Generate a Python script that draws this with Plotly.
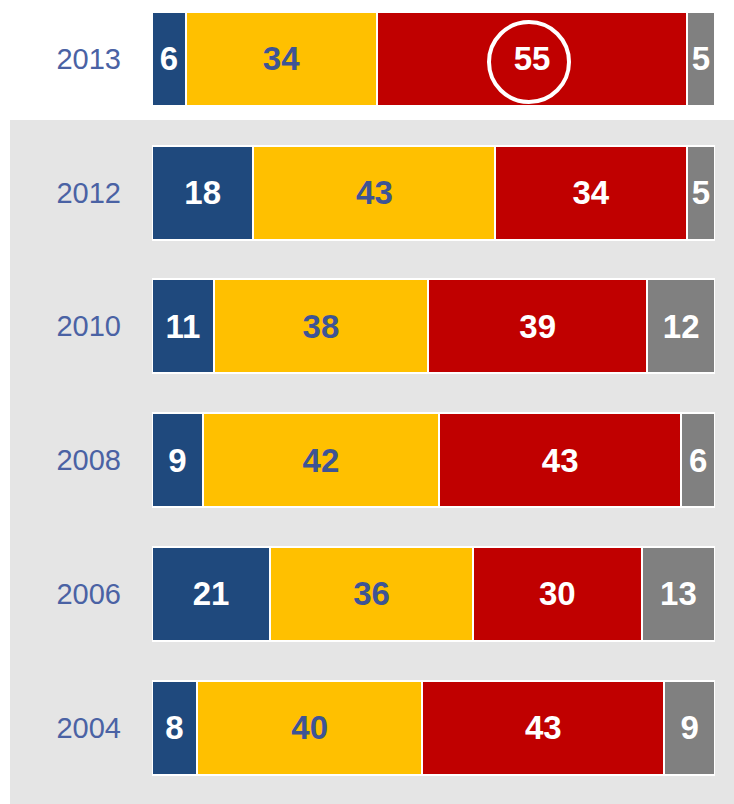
import plotly.graph_objects as go

years = ["2004", "2006", "2008", "2010", "2012", "2013"]
series_names = ["A", "B", "C", "D"]
s1 = [8, 21, 9, 11, 18, 6]
s2 = [40, 36, 42, 38, 43, 34]
s3 = [43, 30, 43, 39, 34, 55]
s4 = [9, 13, 6, 12, 5, 5]
colors = ["#1F497D", "#FFC000", "#C00000", "#808080"]
text_colors = ["#FFFFFF", "#3E5495", "#FFFFFF", "#FFFFFF"]

W, H = 734, 804
L, R = 152, 19

fig = go.Figure()
for name, vals, c, tc in zip(series_names, [s1, s2, s3, s4], colors, text_colors):
    fig.add_trace(go.Bar(
        y=years, x=vals, orientation="h", name=name,
        marker=dict(color=c, line=dict(color="white", width=2)),
        text=[str(v) for v in vals], texttemplate="%{text}",
        textposition="inside", insidetextanchor="middle", textangle=0,
        textfont=dict(family="Liberation Sans, Arial", size=33, color=tc, weight="bold"),
        hoverinfo="skip",
    ))

plot_w = W - L - R
def px_to_xdata(px):
    return (px - L) / plot_w * 100

fig.update_layout(
    width=W, height=H, barmode="stack", bargap=0.2975,
    margin=dict(l=L, r=R, t=0, b=0),
    paper_bgcolor="white", plot_bgcolor="rgba(0,0,0,0)",
    showlegend=False,
    xaxis=dict(range=[0, 100], visible=False, fixedrange=True),
    yaxis=dict(type="category", categoryorder="array", categoryarray=years,
               range=[-0.570, 5.439], showgrid=False, zeroline=False, showline=False,
               ticks="", ticklabelstandoff=30, fixedrange=True,
               tickfont=dict(family="Liberation Sans, Arial", size=29, color="#4A62A4")),
    shapes=[
        dict(type="rect", xref="paper", yref="paper",
             x0=(10 - L) / plot_w, x1=(734 - L) / plot_w,
             y0=0, y1=1 - 120 / H, fillcolor="#E5E5E5", line=dict(width=0), layer="below"),
        dict(type="circle", xref="x", yref="paper", xsizemode="pixel", ysizemode="pixel",
             xanchor=px_to_xdata(529), yanchor=1 - 62 / H,
             x0=-40, x1=40, y0=-40, y1=40,
             line=dict(color="white", width=4), layer="above"),
    ],
)

fig.write_html("out.html", config={"displayModeBar": False},
               post_script="document.body.style.margin='0';")
